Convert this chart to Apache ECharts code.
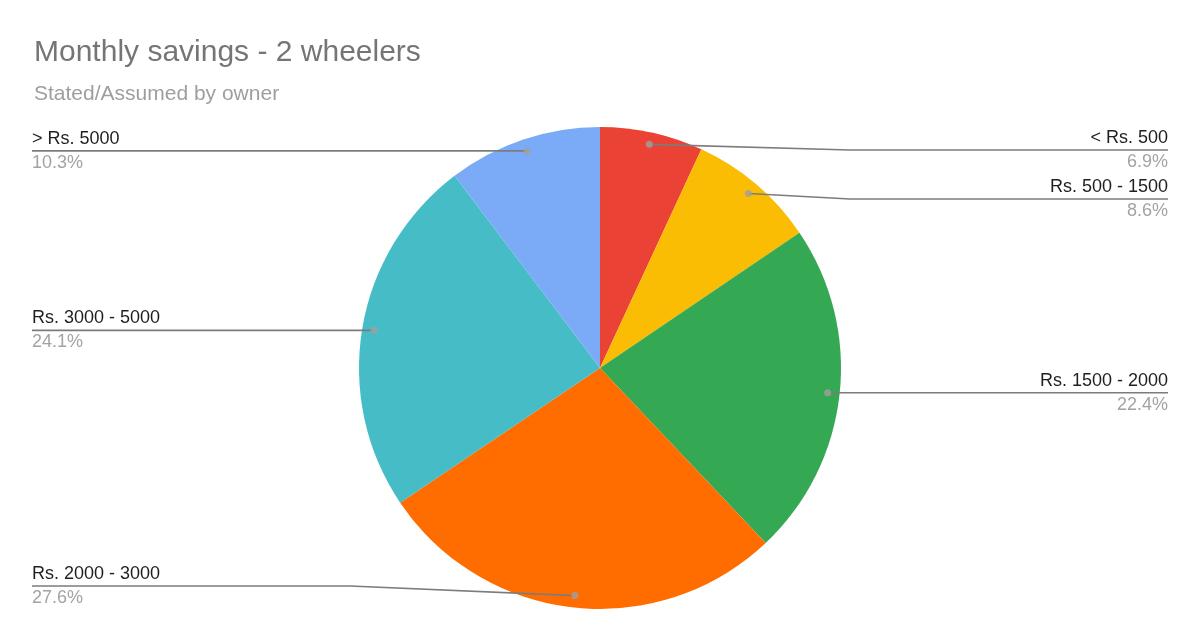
<!DOCTYPE html>
<html><head><meta charset="utf-8">
<script src="https://cdn.jsdelivr.net/npm/echarts@6/dist/echarts.min.js"></script>
<style>html,body{margin:0;padding:0;background:#fff}#c{width:1200px;height:642px}</style>
</head><body><div id="c"></div><script>
const categories = ['< Rs. 500', 'Rs. 500 - 1500', 'Rs. 1500 - 2000', 'Rs. 2000 - 3000', 'Rs. 3000 - 5000', '> Rs. 5000'];
const shares = [6.9, 8.6, 22.4, 27.6, 24.1, 10.3];
const colors = ['#EA4335', '#FBBC04', '#34A853', '#FF6D01', '#46BDC6', '#7BAAF7'];

const CX = 600, CY = 368, R = 241, DOT_R = 229, BEND = 250, EDGE = 32, W = 1200;
const FONT = '"Liberation Sans", Arial, sans-serif';
const total = shares.reduce((a, b) => a + b, 0);
let acc = 0;
const dots = shares.map(v => { const mid = acc + v / 2; acc += v; return [DOT_R, mid]; });

const pieBase = {
  type: 'pie',
  left: 0, right: 0, top: 128, bottom: 34,
  center: [CX, CY - 128],
  radius: R,
  startAngle: 90,
  clockwise: true,
  silent: true,
  emphasis: { disabled: true }
};

const chart = echarts.init(document.getElementById('c'), null, { renderer: 'canvas' });
chart.setOption({
  backgroundColor: '#fff',
  animation: false,
  title: {
    text: 'Monthly savings - 2 wheelers',
    subtext: 'Stated/Assumed by owner',
    left: 29, top: 33, itemGap: 16,
    textStyle: { fontFamily: FONT, fontSize: 30, fontWeight: 'normal', color: '#757575' },
    subtextStyle: { fontFamily: FONT, fontSize: 21, color: '#9e9e9e' }
  },
  polar: { center: [CX, CY], radius: R },
  angleAxis: { type: 'value', min: 0, max: total, startAngle: 90, clockwise: true,
    axisLine: { show: false }, axisTick: { show: false }, axisLabel: { show: false }, splitLine: { show: false } },
  radiusAxis: { type: 'value', min: 0, max: R,
    axisLine: { show: false }, axisTick: { show: false }, axisLabel: { show: false }, splitLine: { show: false } },
  series: [Object.assign({}, pieBase, {
    z: 2,
    data: categories.map((c, i) => ({ name: c, value: shares[i], itemStyle: { color: colors[i] } })),
    itemStyle: { borderWidth: 0 },
    label: { show: false },
    labelLine: { show: false }
  }), Object.assign({}, pieBase, {
    z: 3,
    avoidLabelOverlap: true,
    data: categories.map((c, i) => ({ name: c, value: shares[i] })),
    itemStyle: { color: 'rgba(0,0,0,0)', borderWidth: 0 },
    label: {
      show: true,
      alignTo: 'edge',
      edgeDistance: EDGE,
      formatter: p => '{n|' + p.name + '}\n{p|' + p.value.toFixed(1) + '%}',
      rich: {
        n: { fontFamily: FONT, fontSize: 18, color: '#1f1f1f', lineHeight: 24 },
        p: { fontFamily: FONT, fontSize: 18, color: '#a3a3a3', lineHeight: 24 }
      }
    },
    labelLine: { show: true, length: -(R - DOT_R), length2: 0, lineStyle: { color: '#7c7c7c', width: 1.6 } },
    labelLayout: function (p) {
      const pts = p.labelLinePoints;
      if (!pts) return {};
      const p0 = pts[0];
      const k = DOT_R / R;
      const s = [CX + (p0[0] - CX) * k, CY + (p0[1] - CY) * k];
      const right = s[0] >= CX;
      const rc = p.labelRect.y + p.labelRect.height / 2;
      const y = Math.abs(rc - s[1]) < 4.5 ? s[1] : rc;
      const bx = right ? Math.max(CX + BEND, s[0]) : Math.min(CX - BEND, s[0]);
      const ex = right ? W - EDGE : EDGE;
      return { y: y, labelLinePoints: [s, [bx, y], [ex, y]] };
    }
  }), {
    type: 'scatter',
    coordinateSystem: 'polar',
    symbol: 'circle',
    symbolSize: 7,
    itemStyle: { color: '#a0a0a0' },
    data: dots,
    z: 5,
    silent: true
  }]
});
</script></body></html>
